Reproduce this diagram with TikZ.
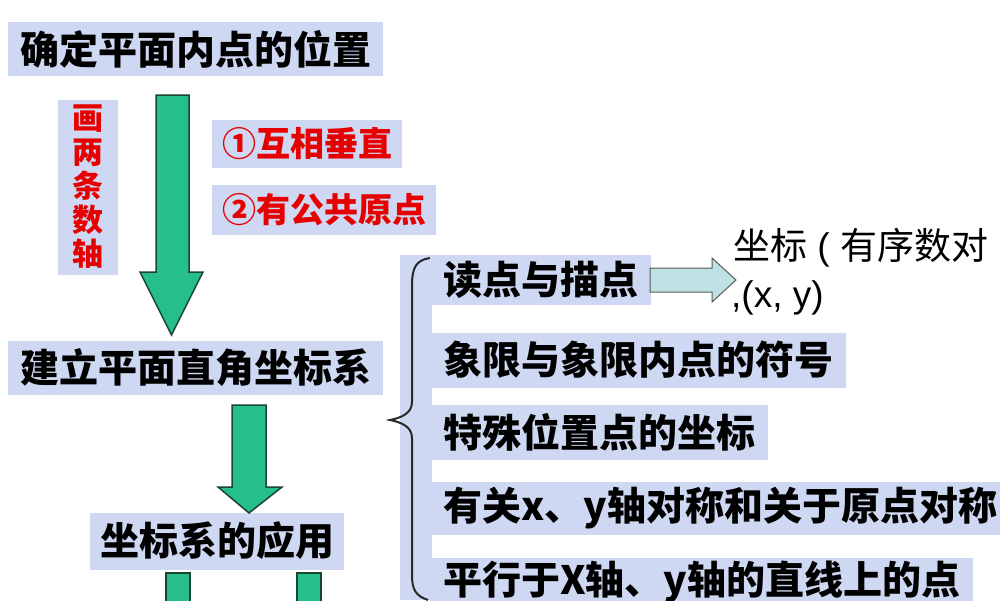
\documentclass[tikz,border=0pt]{standalone}
\usepackage{fontspec}
\setmainfont{Liberation Sans}
\newfontfamily\cjk{Noto Sans CJK SC}
\definecolor{boxc}{RGB}{206,216,242}
\definecolor{greenc}{RGB}{38,190,140}
\definecolor{darkg}{RGB}{25,70,45}
\definecolor{redc}{RGB}{230,0,0}
\definecolor{lightc}{RGB}{190,226,228}
\definecolor{bracec}{RGB}{40,40,40}
\begin{document}
\begin{tikzpicture}[x=1pt,y=-1pt,
  tbox/.style={fill=boxc, inner xsep=12pt, inner ysep=0pt, anchor=west, text=black,
    font=\cjk\bfseries\fontsize{39}{41}\selectfont},
  rbox/.style={fill=boxc, inner xsep=10pt, inner ysep=0pt, anchor=west, text=redc,
    font=\cjk\bfseries\fontsize{34}{36}\selectfont},
  garrow/.style={fill=greenc, draw=darkg, line width=1.5pt, line join=miter},
  larrow/.style={fill=lightc, draw=gray!70!black, line width=1pt, line join=miter},
  plain/.style={anchor=west, inner sep=0pt, text=black, font=\fontsize{37}{39}\selectfont}]
\useasboundingbox (0,0) rectangle (1000,600);
\clip (0,0) rectangle (1000,600);
\fill[white] (0,0) rectangle (1000,600);

% left column
\node[tbox, minimum height=54pt] (t1) at (8,49) {确定平面内点的位置};
\node[fill=boxc, text=redc, minimum width=60pt, minimum height=175pt, inner sep=0pt, align=center,
  font=\cjk\bfseries\fontsize{31}{34}\selectfont] (v) at (88,187) {画\\两\\条\\数\\轴};
\node[rbox, minimum height=48pt] (r1) at (212,144) {①互相垂直};
\node[rbox, minimum height=50pt] (r2) at (212,210) {②有公共原点};
\node[tbox, minimum height=54pt] (t2) at (8,368) {建立平面直角坐标系};
\node[tbox, inner xsep=10pt, minimum height=57pt] (t3) at (90,541) {坐标系的应用};

% green arrows
\draw[garrow] (156,95) -- (189,95) -- (189,272) -- (203,272) -- (171.5,335) -- (140,272) -- (156,272) -- cycle;
\draw[garrow] (232,405) -- (266,405) -- (266,487) -- (282,487) -- (249,513) -- (218,487) -- (232,487) -- cycle;
\draw[garrow] (166,610) -- (166,573) -- (190,573) -- (190,610);
\draw[garrow] (297,610) -- (297,573) -- (321,573) -- (321,610);

% brace background and brace
\fill[boxc] (400,255) rectangle (432,600);
\draw[line width=2pt, bracec] (430,258) .. controls (416,260) and (412,268) .. (412,285)
  -- (412,402) .. controls (412,414) and (400,418) .. (390,420)
  .. controls (400,422) and (412,426) .. (412,438)
  -- (412,575) .. controls (412,590) and (416,596) .. (428,600);

% right column
\node[tbox, inner xsep=13pt, minimum height=50pt] (s1) at (430,280) {读点与描点};
\node[tbox, inner xsep=13pt, minimum height=55pt] (s2) at (430,360) {象限与象限内点的符号};
\node[tbox, inner xsep=13pt, minimum height=55pt] (s3) at (430,432) {特殊位置点的坐标};
\node[tbox, inner xsep=13pt, minimum height=53pt] (s4) at (430,508) {有关x、y轴对称和关于原点对称};
\node[tbox, inner xsep=13pt, minimum height=48pt] (s5) at (430,582) {平行于X轴、y轴的直线上的点};

% light arrow and coordinate text
\draw[larrow] (650,268) -- (712,268) -- (712,258) -- (736,280) -- (712,302) -- (712,292) -- (650,292) -- cycle;
\node[plain] (c1) at (733,248) {{\cjk 坐标} ( {\cjk 有序数对}};
\node[plain] (c2) at (731,298) {,(x, y)};
\end{tikzpicture}
\end{document}
